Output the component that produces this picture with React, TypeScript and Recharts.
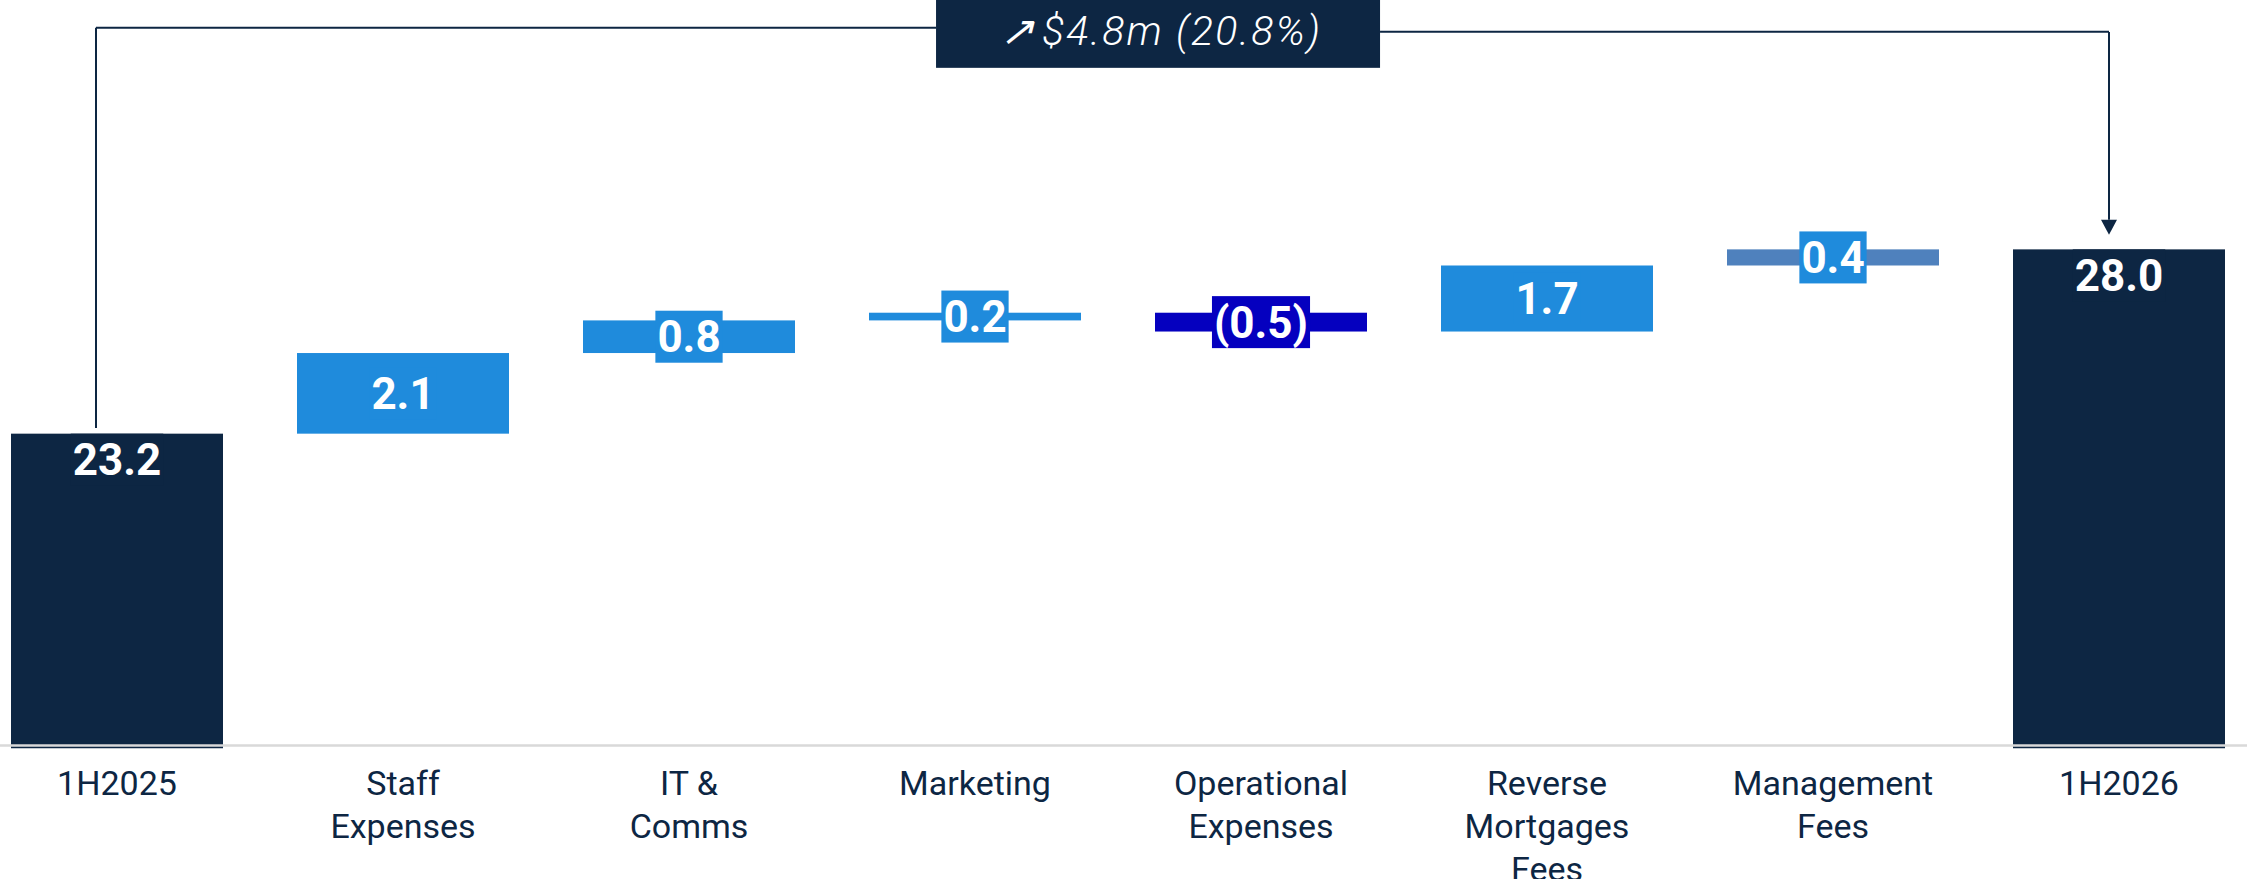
import React from 'react';
import { BarChart, Bar, XAxis, YAxis, ReferenceLine } from 'recharts';

// ---- data ----
const categories = [
  '1H2025',
  'Staff Expenses',
  'IT & Comms',
  'Marketing',
  'Operational Expenses',
  'Reverse Mortgages Fees',
  'Management Fees',
  '1H2026',
];
const tickLines = [
  ['1H2025'],
  ['Staff', 'Expenses'],
  ['IT &', 'Comms'],
  ['Marketing'],
  ['Operational', 'Expenses'],
  ['Reverse', 'Mortgages', 'Fees'],
  ['Management', 'Fees'],
  ['1H2026'],
];
const kinds = ['total', 'delta', 'delta', 'delta', 'delta', 'delta', 'delta', 'total'];
const values = [23.2, 2.1, 0.85, 0.2, -0.49, 1.72, 0.42, 28.0];
const valueLabels = ['23.2', '2.1', '0.8', '0.2', '(0.5)', '1.7', '0.4', '28.0'];
const barColors = ['#0d2643', '#1f8bdc', '#1f8bdc', '#1f8bdc', '#0500bf', '#1f8bdc', '#4f81bd', '#0d2643'];
const labelBgColors = ['#0d2643', '#1f8bdc', '#1f8bdc', '#1f8bdc', '#0500bf', '#1f8bdc', '#1f8bdc', '#0d2643'];
const changeArrow = '\u2197';
const changeText = '$4.8m (20.8%)';
const bracketTop = 33.77;
const bracketRightTop = 33.66;
const startLineBottom = 23.35;
const arrowTipValue = 28.38;
const axisMin = 15;
const axisMax = 34;

const NAVY = '#0d2643';

// build waterfall rows
const data = (() => {
  let running = 0;
  return categories.map((name, i) => {
    if (kinds[i] === 'total') {
      running = values[i];
      return { name, range: values[i] };
    }
    const start = running;
    const end = running + values[i];
    running = end;
    return { name, range: [Math.min(start, end), Math.max(start, end)] };
  });
})();

let canvasCtx: CanvasRenderingContext2D | null = null;
const measure = (text: string, font: string) => {
  if (!canvasCtx) {
    const c = document.createElement('canvas');
    canvasCtx = c.getContext('2d');
  }
  if (!canvasCtx) return text.length * 24;
  canvasCtx.font = font;
  return canvasCtx.measureText(text).width;
};

const LABEL_FONT = '700 44px Roboto';

const BarShape = (props: any) => {
  const { x, y, width, height, index } = props;
  const top = Math.min(y, y + height);
  const h = Math.abs(height);
  const text = valueLabels[index];
  const tw = measure(text, LABEL_FONT) + 4;
  const cx = x + width / 2;
  const cy = kinds[index] === 'total' ? top + 26 : top + h / 2;
  return (
    <g>
      <rect x={x} y={top} width={width} height={h} fill={barColors[index]} />
      <rect x={cx - tw / 2} y={cy - 26} width={tw} height={52} fill={labelBgColors[index]} />
      <text
        x={cx}
        y={cy + 15.6}
        textAnchor="middle"
        fill="#ffffff"
        fontSize={44}
        fontWeight={700}
        fontFamily="Roboto, sans-serif"
      >
        {text}
      </text>
    </g>
  );
};

const Tick = (props: any) => {
  const { x, y, payload } = props;
  const idx = categories.indexOf(payload.value);
  const lines = tickLines[idx] || [String(payload.value)];
  return (
    <text
      x={x}
      y={y}
      textAnchor="middle"
      fill={NAVY}
      fontSize={34}
      fontFamily="Roboto, sans-serif"
    >
      {lines.map((l, i) => (
        <tspan key={i} x={x} y={y + 46 + i * 43}>
          {l}
        </tspan>
      ))}
    </text>
  );
};

const LeftVertical = (p: any) => (
  <line x1={p.x1 - 21} y1={p.y1} x2={p.x2 - 21} y2={p.y2} stroke={NAVY} strokeWidth={2} />
);

const TopBracket = (p: any) => {
  const xl = p.x1 - 21;
  const xr = p.x2 - 10;
  const cx = p.x1 + (p.x2 - p.x1) * 0.52;
  const bw = 444;
  const bh = 68;
  const by = p.y1 - 28;
  return (
    <g>
      <line x1={xl} y1={p.y1} x2={cx - bw / 2} y2={p.y1} stroke={NAVY} strokeWidth={2} />
      <line x1={cx + bw / 2} y1={p.y1 + 4} x2={xr} y2={p.y1 + 4} stroke={NAVY} strokeWidth={2} />
      <rect x={cx - bw / 2} y={by} width={bw} height={bh} fill={NAVY} />
      <text
        x={cx + 3}
        y={by + 45}
        textAnchor="middle"
        fill="#ffffff"
        fontSize={41}
        fontStyle="italic"
        fontWeight={300}
        letterSpacing={2.2}
        fontFamily="Roboto, sans-serif"
      >
        <tspan>{changeArrow}</tspan>
        <tspan dx={6}>{changeText}</tspan>
      </text>
    </g>
  );
};

const RightArrow = (p: any) => {
  const x = p.x1 - 10;
  const headH = 15;
  return (
    <g>
      <line x1={x} y1={p.y1} x2={x} y2={p.y2 - headH} stroke={NAVY} strokeWidth={2} />
      <path d={`M${x - 8},${p.y2 - headH} L${x + 8},${p.y2 - headH} L${x},${p.y2} Z`} fill={NAVY} />
    </g>
  );
};

const AxisLineShape = (p: any) => (
  <line x1={p.x1} y1={p.y1} x2={p.x2} y2={p.y2} stroke="#d9d9d9" strokeWidth={2.5} />
);

export default function App() {
  return (
    <div
      style={{
        position: 'absolute',
        left: 0,
        top: 0,
        width: 2247,
        height: 879,
        overflow: 'hidden',
        background: '#ffffff',
      }}
    >
      <div style={{ position: 'absolute', left: -26, top: 0 }}>
        <BarChart
          width={2288}
          height={879}
          data={data}
          margin={{ top: 19, right: 0, bottom: 0, left: 0 }}
          barSize={212}
        >
          <XAxis
            dataKey="name"
            interval={0}
            axisLine={false}
            tickLine={false}
            tickSize={0}
            tickMargin={0}
            height={130.5}
            tick={<Tick />}
          />
          <YAxis hide type="number" domain={[axisMin, axisMax]} allowDataOverflow />
          <Bar dataKey="range" isAnimationActive={false} shape={<BarShape />} />
          <ReferenceLine
            y={axisMin + 0.08}
            shape={<AxisLineShape />}
          />
          <ReferenceLine
            segment={[
              { x: categories[0], y: startLineBottom },
              { x: categories[0], y: bracketTop },
            ]}
            shape={<LeftVertical />}
          />
          <ReferenceLine
            segment={[
              { x: categories[0], y: bracketTop },
              { x: categories[7], y: bracketTop },
            ]}
            shape={<TopBracket />}
          />
          <ReferenceLine
            segment={[
              { x: categories[7], y: bracketRightTop },
              { x: categories[7], y: arrowTipValue },
            ]}
            shape={<RightArrow />}
          />
        </BarChart>
      </div>
    </div>
  );
}
